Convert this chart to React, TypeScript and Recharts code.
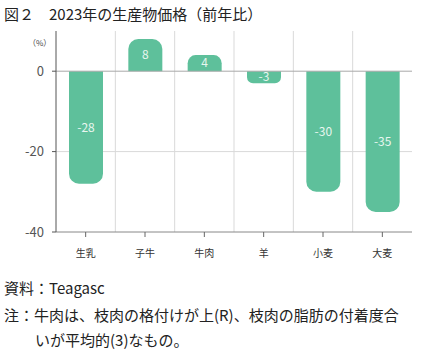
import {
  Bar,
  BarChart,
  CartesianGrid,
  LabelList,
  ReferenceLine,
  XAxis,
  YAxis
} from 'recharts';

const categories = ['生乳', '子牛', '牛肉', '羊', '小麦', '大麦'];
const changes = [-28, 8, 4, -3, -30, -35];
const yTicks = [0, -20, -40];
const gridValues = [-20];

const chartData = categories.map((name, i) => ({ name, value: changes[i] }));

const textColor = '#222';
const barColor = '#5EC09B';

function CategoryTick({ x, y, payload }: { x?: number; y?: number; payload?: { value: string } }) {
  return (
    <text x={x} y={y} dy={12} textAnchor="middle" fontSize={10} fill="#333">
      {payload?.value}
    </text>
  );
}

function boundaryLines({ offset }: { offset: { left: number; width: number } }) {
  const step = offset.width / categories.length;
  return categories.slice(1).map((_, i) => offset.left + step * (i + 1));
}

export default function App() {
  return (
    <div
      style={{
        position: 'absolute',
        left: 0,
        top: 0,
        width: 433,
        height: 351,
        background: '#fff',
        color: textColor,
        fontFamily: '"Noto Sans CJK JP", "Noto Sans", sans-serif'
      }}
    >
      <div style={{ position: 'absolute', left: 4, top: 3, fontSize: 15, lineHeight: '22px', whiteSpace: 'nowrap' }}>
        図２　2023年の生産物価格（前年比）
      </div>
      <div style={{ position: 'absolute', left: 28, top: 37, fontSize: 8, color: '#444' }}>（%）</div>

      <div style={{ position: 'absolute', left: 0, top: 0 }}>
        <BarChart
          width={433}
          height={270}
          data={chartData}
          margin={{ top: 31, right: 21, left: 0, bottom: 0 }}
          barSize={34}
        >
          <CartesianGrid
            stroke="#d9d9d9"
            horizontalValues={gridValues}
            verticalCoordinatesGenerator={boundaryLines}
          />
          <ReferenceLine y={0} stroke="#a8a8a8" />
          <XAxis
            dataKey="name"
            height={38}
            tick={<CategoryTick />}
            tickSize={5}
            tickMargin={8}
            tickLine={{ stroke: '#666' }}
            axisLine={{ stroke: '#888' }}
            interval={0}
          />
          <YAxis
            width={56}
            domain={[-40, 10]}
            ticks={yTicks}
            tickSize={4}
            tickMargin={8}
            tick={{ fontSize: 13, fill: '#555' }}
            tickLine={{ stroke: '#555' }}
            axisLine={{ stroke: '#555' }}
          />
          <Bar dataKey="value" fill={barColor} radius={[10, 10, 0, 0]} isAnimationActive={false}>
            <LabelList dataKey="value" position="center" fill="#e8f6ef" fontSize={12} />
          </Bar>
        </BarChart>
      </div>

      <div style={{ position: 'absolute', left: 4, top: 277, fontSize: 15, lineHeight: '22px', whiteSpace: 'nowrap' }}>
        資料：Teagasc
      </div>
      <div style={{ position: 'absolute', left: 4, top: 302, fontSize: 15, lineHeight: '25px', whiteSpace: 'nowrap' }}>
        注：牛肉は、枝肉の格付けが上(R)、枝肉の脂肪の付着度合
        <br />
        <span style={{ paddingLeft: 31 }}>いが平均的(3)なもの。</span>
      </div>
    </div>
  );
}
